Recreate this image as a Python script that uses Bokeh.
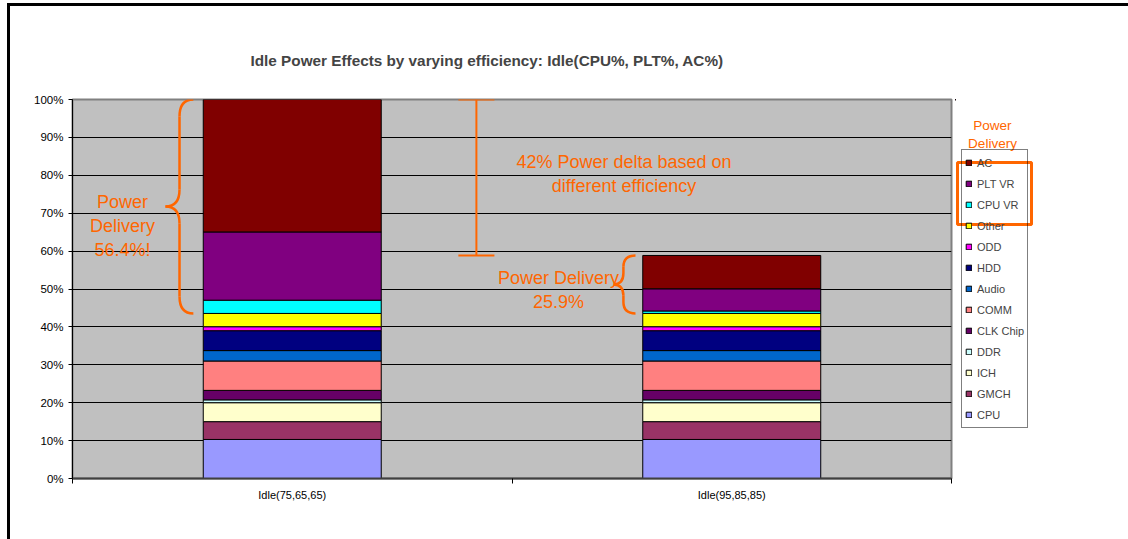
from bokeh.plotting import figure
from bokeh.layouts import row
from bokeh.models import (ColumnDataSource, Range1d, FixedTicker, PrintfTickFormatter,
                          Legend, LegendItem, BoxAnnotation)
from bokeh.core.properties import value
from bokeh.embed import file_html
from bokeh.resources import INLINE

# ---------------- data ----------------
categories = ["Idle(75,65,65)", "Idle(95,85,85)"]
components = ["CPU", "GMCH", "ICH", "DDR", "CLK Chip", "COMM", "Audio",
              "HDD", "ODD", "Other", "CPU VR", "PLT VR", "AC"]
cpu = [10.3, 10.3]
gmch = [4.7, 4.7]
ich = [5.0, 5.0]
ddr = [0.75, 0.75]
clk_chip = [2.5, 2.5]
comm = [7.75, 7.75]
audio = [2.75, 2.75]
hdd = [5.25, 5.25]
odd = [1.05, 1.05]
other = [3.5, 3.5]
cpu_vr = [3.5, 0.65]
plt_vr = [18.0, 5.85]
ac = [34.95, 8.8]
series = [cpu, gmch, ich, ddr, clk_chip, comm, audio, hdd, odd, other, cpu_vr, plt_vr, ac]
colors = ["#9999FF", "#993366", "#FFFFCC", "#CCFFFF", "#660066", "#FF8080", "#0066CC",
          "#000080", "#FF00FF", "#FFFF00", "#00FFFF", "#800080", "#800000"]
y_ticks = list(range(0, 101, 10))
title_text = "Idle Power Effects by varying efficiency: Idle(CPU%, PLT%, AC%)"
note_texts = ["Power\nDelivery\n56.4%!", "42% Power delta based on\ndifferent efficiency",
              "Power Delivery\n25.9%"]
legend_header = ["Power\nDelivery"]

# ---------------- layout constants (page pixels) ----------------
FONT = "Liberation Sans"
ORANGE = "#FF6600"
CX, CY = 10, 6                     # content origin on the page
SPLIT = 955                        # where the side panel figure starts
PAGE_W, PAGE_H = 1128, 539
FL, FT, FR, FB = 72, 99, 951, 478  # frame edges on the page
BAR_W = 0.405

x_pos = [i + 0.5 for i in range(len(categories))]

p = figure(width=SPLIT - CX, height=PAGE_H - CY, output_backend="svg", toolbar_location=None,
           x_range=Range1d(0, len(categories)), y_range=Range1d(0, 100),
           min_border_left=FL - CX, min_border_top=FT - CY,
           min_border_right=SPLIT - FR, min_border_bottom=PAGE_H - FB,
           background_fill_color="#C0C0C0", border_fill_color="white")
p.outline_line_color = "#808080"
p.outline_line_width = 2

p.title.text = title_text
p.title.text_font = FONT
p.title.text_font_size = "15.3px"
p.title.text_font_style = "bold"
p.title.align = "left"
p.title.offset = 250 - FL
p.title.standoff = 62

data = {"x": x_pos}
for name, vals in zip(components, series):
    data[name] = vals
source = ColumnDataSource(data)
renderers = p.vbar_stack(components, x="x", width=BAR_W, fill_color=colors,
                         line_color="black", line_width=1, source=source)

# axes
p.xgrid.visible = False
p.ygrid.grid_line_color = "black"
p.ygrid.grid_line_width = 1
p.ygrid.ticker = FixedTicker(ticks=y_ticks)

p.yaxis.ticker = FixedTicker(ticks=y_ticks)
p.yaxis.formatter = PrintfTickFormatter(format="%d%%")
p.yaxis.major_tick_out = 4
p.yaxis.major_tick_in = 0
p.yaxis.minor_tick_line_color = None
p.yaxis.axis_line_color = "black"
p.yaxis.major_label_text_font = FONT
p.yaxis.major_label_text_font_size = "11.5px"
p.yaxis.major_label_text_color = "black"
p.yaxis.major_label_standoff = 5

p.xaxis.ticker = FixedTicker(ticks=x_pos, minor_ticks=list(range(len(categories) + 1)))
p.xaxis.major_label_overrides = {x: c for x, c in zip(x_pos, categories)}
p.xaxis.major_tick_out = 0
p.xaxis.major_tick_in = 0
p.xaxis.minor_tick_out = 5
p.xaxis.minor_tick_in = 0
p.xaxis.minor_tick_line_color = "black"
p.xaxis.axis_line_color = "#404040"
p.xaxis.axis_line_width = 2
p.xaxis.major_label_text_font = FONT
p.xaxis.major_label_text_font_size = "11px"
p.xaxis.major_label_text_color = "black"
p.xaxis.major_label_standoff = 5

# derived annotation geometry
base = [sum(s[i] for s in series[:10]) for i in range(len(categories))]
totals = [sum(s[i] for s in series) for i in range(len(categories))]


def brace(x_end, x_vert, x_tip, y_top, y_bot, r):
    y_mid = (y_top + y_bot) / 2
    p.quadratic(x0=[x_end, x_vert, x_vert, x_end], y0=[y_top, y_mid + r, y_mid - r, y_bot],
                x1=[x_vert, x_tip, x_tip, x_vert], y1=[y_top - r, y_mid, y_mid, y_bot + r],
                cx=[x_vert] * 4, cy=[y_top, y_mid, y_mid, y_bot],
                line_color=ORANGE, line_width=2.5)
    p.segment(x0=[x_vert, x_vert], y0=[y_top - r, y_mid - r],
              x1=[x_vert, x_vert], y1=[y_mid + r, y_bot + r],
              line_color=ORANGE, line_width=2.5)


left0 = x_pos[0] - BAR_W / 2
left1 = x_pos[1] - BAR_W / 2
brace(left0 - 0.0225, left0 - 0.054, left0 - 0.086, totals[0], base[0], 4.5)
brace(left1 - 0.0165, left1 - 0.044, left1 - 0.0665, totals[1], base[1], 3.0)

# I-beam showing the delta
ib_x, ib_half = 0.919, 0.041
p.segment(x0=[ib_x, ib_x - ib_half, ib_x - ib_half], y0=[totals[0], totals[0], totals[1]],
          x1=[ib_x, ib_x + ib_half, ib_x + ib_half], y1=[totals[1], totals[0], totals[1]],
          line_color=ORANGE, line_width=2)

p.text(x=[0.114, 1.2548, 1.106], y=[66.6, 80.3, 49.7], text=note_texts,
       text_font=value(FONT), text_font_size="18px", text_color=ORANGE,
       text_align="center", text_baseline="middle", text_line_height=1.2)

# ---------------- side panel: legend, header and highlight ----------------
s = figure(width=PAGE_W - SPLIT, height=PAGE_H - CY, output_backend="svg",
           toolbar_location=None, x_range=Range1d(SPLIT, PAGE_W), y_range=Range1d(FB, FT),
           x_axis_location=None, y_axis_location=None,
           min_border_left=0, min_border_right=0,
           min_border_top=FT - CY, min_border_bottom=PAGE_H - FB,
           outline_line_color=None, background_fill_color="white", border_fill_color="white")
s.grid.visible = False
proxies = s.vbar_stack(components, x="x", width=BAR_W, fill_color=colors,
                       line_color="black", line_width=1, source=source)
s.add_layout(BoxAnnotation(left=957, right=1031, top=162, bottom=224,
                           fill_alpha=0, line_color=ORANGE, line_width=3, line_alpha=1))
items = [LegendItem(label=c, renderers=[r]) for c, r in zip(components, proxies)][::-1]
legend = Legend(items=items, location=(961 - SPLIT, FB - 428),
                label_text_font=FONT, label_text_font_size="11px",
                glyph_width=7, glyph_height=7, label_standoff=5,
                label_height=19, spacing=2, padding=3, margin=0,
                border_line_color="black", border_line_width=1,
                background_fill_alpha=0)
s.add_layout(legend)

s.text(x=[992], y=[133.5], text=legend_header, text_font=value(FONT),
       text_font_size="13.5px", text_color=ORANGE, text_align="center",
       text_baseline="middle", text_line_height=1.2)

layout = row(p, s)
layout.styles = {"margin-left": "7px", "margin-top": "3px",
                 "border-top": "3px solid black", "border-left": "3px solid black"}

open("out.html", "w").write(file_html(layout, INLINE))
